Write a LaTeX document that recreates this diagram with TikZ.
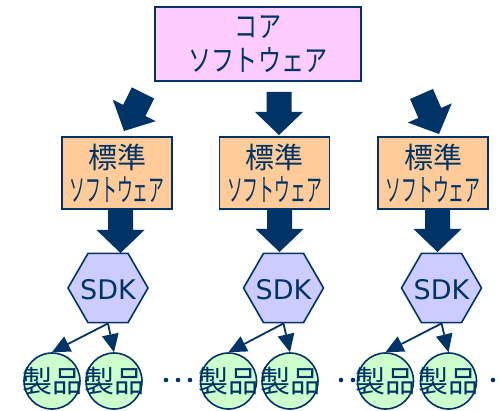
\documentclass[tikz,border=0pt]{standalone}
\usepackage{fontspec}
\setmainfont{Noto Sans CJK JP}
\newfontfamily\sdkfont{DejaVu Sans}
\usetikzlibrary{shapes.geometric,calc}
\definecolor{ink}{RGB}{0,51,102}
\definecolor{corefill}{RGB}{255,204,255}
\definecolor{stdfill}{RGB}{255,204,153}
\definecolor{sdkfill}{RGB}{204,204,255}
\definecolor{prodfill}{RGB}{204,255,204}
% block arrow: #1 tail, #2 tip, #3 name prefix
\newcommand\blockarr[3]{%
  \coordinate (#3h) at ($(#2)!23pt!(#1)$);
  \fill[ink] ($(#1)!12.5pt!90:(#2)$) -- ($(#3h)!12.5pt!90:(#2)$) -- ($(#3h)!24pt!90:(#2)$)
    -- (#2) -- ($(#3h)!24pt!-90:(#2)$) -- ($(#3h)!12.5pt!-90:(#2)$) -- ($(#1)!12.5pt!-90:(#2)$) -- cycle;}
% thin arrow: #1 start, #2 tip, #3 name prefix
\newcommand\thinarr[3]{%
  \coordinate (#3h) at ($(#2)!18pt!(#1)$);
  \draw[ink,line width=1.8pt] (#1) -- (#3h);
  \fill[ink] ($(#3h)!8.5pt!-90:(#2)$) -- (#2) -- ($(#3h)!8.5pt!90:(#2)$) -- cycle;}
\begin{document}
\begin{tikzpicture}[x=1pt,y=-1pt,
  corebox/.style={draw=ink,fill=corefill,line width=1.6pt,minimum width=206pt,minimum height=74pt,inner sep=0pt,
    align=center,text=ink,font=\fontsize{30}{34}\selectfont},
  stdbox/.style={draw=ink,fill=stdfill,line width=1.6pt,minimum width=110pt,minimum height=72pt,inner sep=0pt,
    align=center,text=ink,font=\fontsize{29}{33}\selectfont},
  sdkhex/.style={draw=ink,fill=sdkfill,line width=1.6pt,regular polygon,regular polygon sides=6,minimum size=80pt,inner sep=0pt},
  sdktext/.style={text=ink,font=\sdkfont\fontsize{27}{27}\selectfont,inner sep=0pt},
  prod/.style={draw=ink,fill=prodfill,line width=1.6pt,circle,minimum size=56pt,inner sep=0pt},
  prodtext/.style={text=ink,font=\fontsize{30}{30}\selectfont,inner sep=0pt},
  dot/.style={fill=ink}
]
\useasboundingbox (0,0) rectangle (500,411);

% core
\node[corebox] (core) at (258,44) {\scalebox{0.77}[1]{コア}\\\scalebox{0.77}[1]{ソフトウェア}};

% standard boxes
\node[stdbox] (std1) at (117,173) {標準\\\fontsize{31}{33}\selectfont\scalebox{0.51}[1]{ソフトウェア}};
\node[stdbox] (std2) at (274.5,173) {標準\\\fontsize{31}{33}\selectfont\scalebox{0.51}[1]{ソフトウェア}};
\node[stdbox] (std3) at (433,173) {標準\\\fontsize{31}{33}\selectfont\scalebox{0.51}[1]{ソフトウェア}};

% SDK hexagons
\node[sdkhex] (sdk1) at (108,288) {};
\node[sdkhex] (sdk2) at (283.5,288) {};
\node[sdkhex] (sdk3) at (441.5,288) {};
\node[sdktext] (sdk1t) at (108,290) {SDK};
\node[sdktext] (sdk2t) at (283.5,290) {SDK};
\node[sdktext] (sdk3t) at (441.5,290) {SDK};

% dots
\fill[dot] (166,380) circle (2.3pt);
\fill[dot] (178,380) circle (2.3pt);
\fill[dot] (190,380) circle (2.3pt);
\fill[dot] (341,380) circle (2.3pt);
\fill[dot] (353,380) circle (2.3pt);
\fill[dot] (365,380) circle (2.3pt);
\fill[dot] (493,380) circle (2.3pt);

% products
\node[prod] (p11) at (52,381) {};
\node[prod] (p12) at (114,381) {};
\node[prod] (p21) at (228.5,381) {};
\node[prod] (p22) at (290,381) {};
\node[prod] (p31) at (385.5,381) {};
\node[prod] (p32) at (448.5,381) {};
\node[prodtext] (p11t) at (p11) {製品};
\node[prodtext] (p12t) at (p12) {製品};
\node[prodtext] (p21t) at (p21) {製品};
\node[prodtext] (p22t) at (p22) {製品};
\node[prodtext] (p31t) at (p31) {製品};
\node[prodtext] (p32t) at (p32) {製品};

% block arrows: core -> standard
\coordinate (a1s) at (143,93);
\coordinate (a1e) at (124,131);
\coordinate (a2s) at (279,92);
\coordinate (a2e) at (279,135);
\coordinate (a3s) at (421.5,94);
\coordinate (a3e) at (439,134);
\blockarr{a1s}{a1e}{a1}
\blockarr{a2s}{a2e}{a2}
\blockarr{a3s}{a3e}{a3}

% block arrows: standard -> SDK
\coordinate (b1s) at (120.5,209);
\coordinate (b1e) at (120.5,253);
\coordinate (b2s) at (279.5,209);
\coordinate (b2e) at (279.5,252);
\coordinate (b3s) at (437.5,209);
\coordinate (b3e) at (437.5,252);
\blockarr{b1s}{b1e}{b1}
\blockarr{b2s}{b2e}{b2}
\blockarr{b3s}{b3e}{b3}

% thin arrows: SDK -> products
\thinarr{sdk1.south}{p11.north}{c11}
\thinarr{sdk1.south}{p12.north}{c12}
\thinarr{sdk2.south}{p21.north}{c21}
\thinarr{sdk2.south}{p22.north}{c22}
\thinarr{sdk3.south}{p31.north}{c31}
\thinarr{sdk3.south}{p32.north}{c32}
\end{tikzpicture}
\end{document}
